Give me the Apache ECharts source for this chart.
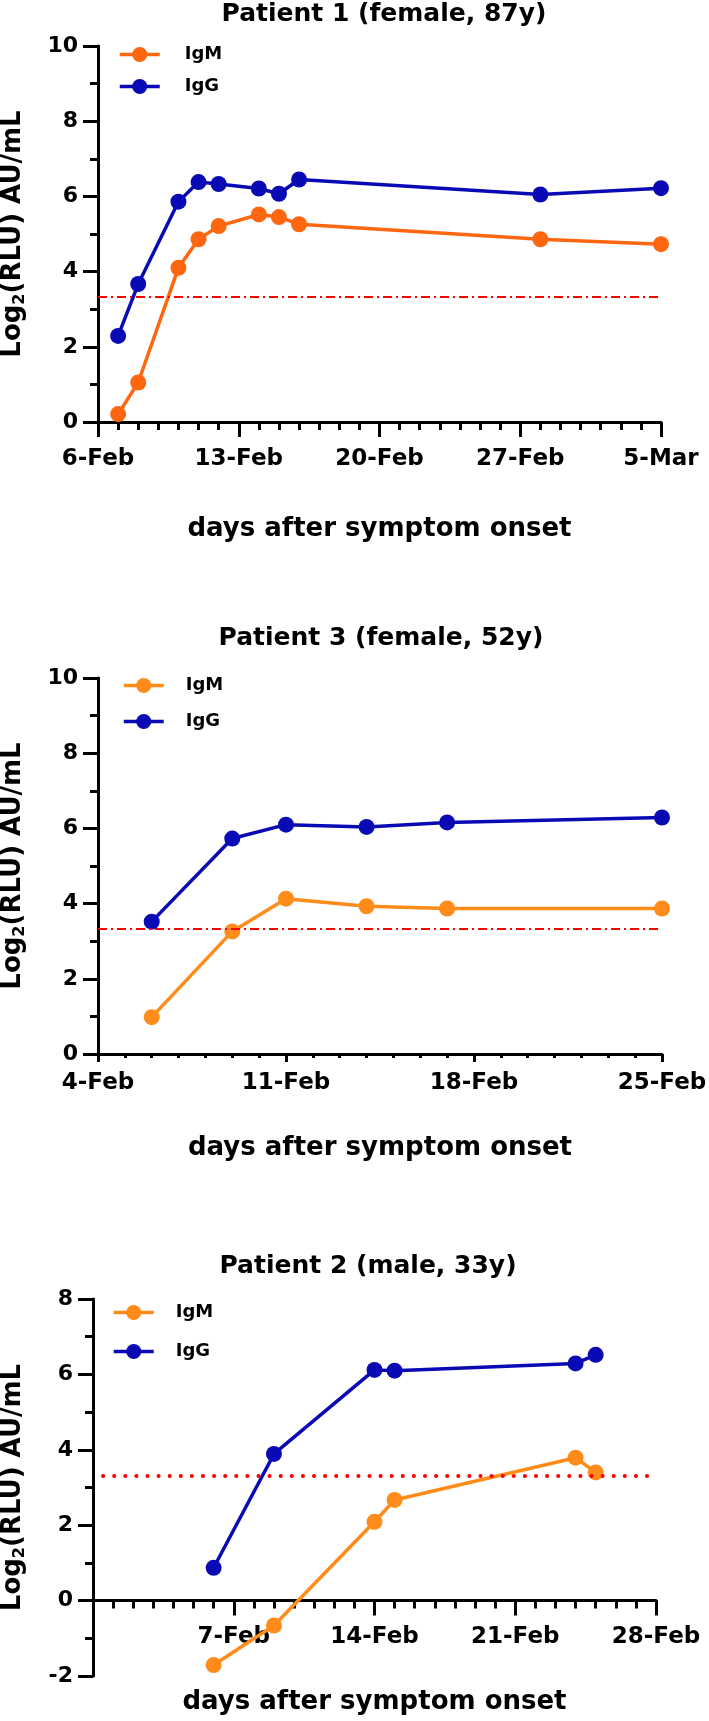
<!DOCTYPE html>
<html><head><meta charset="utf-8">
<script src="https://cdn.jsdelivr.net/npm/echarts@6/dist/echarts.min.js"></script>
<style>html,body{margin:0;padding:0;background:#fff}#c{width:709px;height:1721px}</style>
</head><body><div id="c"></div>
<script>
// ---------------- DATA ----------------
const seriesNames = ['IgM', 'IgG'];
const xTitle = 'days after symptom onset';
const CUTOFF = 3.32;            // log2(10) positivity cut-off
const xTickDays = 7;             // major tick every week

// Patient 1
const p1Title = 'Patient 1 (female, 87y)';
const p1Start = '2020-02-06';
const p1SpanDays = 28;
const p1Dates = ['2020-02-07','2020-02-08','2020-02-10','2020-02-11','2020-02-12','2020-02-14','2020-02-15','2020-02-16','2020-02-28','2020-03-05'];
const p1IgM = [0.21, 1.05, 4.10, 4.86, 5.21, 5.52, 5.45, 5.26, 4.86, 4.73];
const p1IgG = [2.29, 3.67, 5.86, 6.38, 6.33, 6.21, 6.07, 6.45, 6.05, 6.22];

// Patient 3
const p3Title = 'Patient 3 (female, 52y)';
const p3Start = '2020-02-04';
const p3SpanDays = 21;
const p3Dates = ['2020-02-06','2020-02-09','2020-02-11','2020-02-14','2020-02-17','2020-02-25'];
const p3IgM = [0.98, 3.26, 4.13, 3.93, 3.87, 3.87];
const p3IgG = [3.52, 5.73, 6.10, 6.04, 6.16, 6.29];

// Patient 2
const p2Title = 'Patient 2 (male, 33y)';
const p2Start = '2020-01-31';
const p2SpanDays = 28;
const p2Dates = ['2020-02-06','2020-02-09','2020-02-14','2020-02-15','2020-02-24','2020-02-25'];
const p2IgM = [-1.71, -0.66, 2.09, 2.67, 3.79, 3.40];
const p2IgG = [0.87, 3.89, 6.12, 6.10, 6.29, 6.52];
const p2CutoffSpan = [0.5, 27.8]; // days after p2Start covered by the dotted cut-off line

const yRange13 = [0, 10];
const yRange2 = [-2, 8];

// ---------------- HELPERS ----------------
const FONT = 'DejaVu Sans';
const MONTHS = ['Jan','Feb','Mar','Apr','May','Jun','Jul','Aug','Sep','Oct','Nov','Dec'];
const BLUE = '#0a0ab4';
const ORANGE1 = '#ff6610';
const ORANGE2 = '#ff8c1a';
function utc(s){ const p = s.split('-').map(Number); return Date.UTC(p[0], p[1]-1, p[2]); }
function dayOff(start, d){ return Math.round((utc(d) - utc(start)) / 86400000); }
function fmt(start, v){ const d = new Date(utc(start) + v * 86400000); return d.getUTCDate() + '-' + MONTHS[d.getUTCMonth()]; }
const black = { color: '#000', width: 3 };

const grids = [
  { left: 98, right: 48, top: 46, height: 376 },
  { left: 98, right: 47, top: 678, height: 376 },
  { left: 93, right: 53, top: 1299, height: 377 }
];

function xAxisCfg(gi, start, span, o){
  return {
    type: 'value', gridIndex: gi, min: 0, max: span, interval: xTickDays,
    offset: o.offset || 0,
    axisLine: { show: true, onZero: false, lineStyle: black },
    axisTick: { show: true, length: o.tick, lineStyle: black },
    minorTick: { show: true, splitNumber: xTickDays, length: o.minor, lineStyle: black },
    splitLine: { show: false }, minorSplitLine: { show: false },
    axisLabel: { margin: o.margin, fontFamily: FONT, fontWeight: 'bold', fontSize: 23, color: '#000',
      showMinLabel: o.showMin, showMaxLabel: true, formatter: v => fmt(start, v) },
    name: xTitle, nameLocation: 'middle', nameGap: o.nameGap,
    nameTextStyle: { fontFamily: FONT, fontWeight: 'bold', fontSize: 26, color: '#000' }
  };
}
function yAxisCfg(gi, range, gap){
  return {
    type: 'value', gridIndex: gi, min: range[0], max: range[1], interval: 2,
    axisLine: { show: true, onZero: false, lineStyle: black },
    axisTick: { show: true, length: 15, lineStyle: black },
    minorTick: { show: true, splitNumber: 2, length: 8, lineStyle: black },
    splitLine: { show: false }, minorSplitLine: { show: false },
    axisLabel: { margin: 20, fontFamily: FONT, fontWeight: 'bold', fontSize: 22, color: '#000' },
    name: '{a|Log}{s|2}{a|(RLU) AU/mL}', nameLocation: 'middle', nameRotate: 90, nameGap: gap,
    nameTextStyle: { color: '#000', rich: {
      a: { fontFamily: FONT, fontWeight: 'bold', fontSize: 26, lineHeight: 30, color: '#000' },
      s: { fontFamily: FONT, fontWeight: 'bold', fontSize: 16, lineHeight: 16, verticalAlign: 'bottom', color: '#000' }
    } }
  };
}
function lineSeries(name, color, idx, start, dates, vals, extra){
  const s = {
    type: 'line', name: name, xAxisIndex: idx, yAxisIndex: idx,
    data: dates.map((d, i) => [dayOff(start, d), vals[i]]),
    symbol: 'circle', symbolSize: 16, showSymbol: true,
    lineStyle: { width: 3.5, color: color }, itemStyle: { color: color },
    z: 3, animation: false
  };
  return Object.assign(s, extra || {});
}
function titleCfg(text, x, top){
  return { text: text, left: x, top: top, textAlign: 'center', padding: 0,
    textStyle: { fontFamily: FONT, fontWeight: 'bold', fontSize: 25, color: '#000' } };
}
function legendCfg(left, top, gap, orange, pad){
  return {
    orient: 'vertical', left: left, top: top, padding: 0, itemGap: gap,
    itemWidth: 40, itemHeight: 19, selectedMode: false,
    textStyle: { fontFamily: FONT, fontWeight: 'bold', fontSize: 18, color: '#000', padding: [0, 0, 0, pad] },
    data: [
      { name: seriesNames[0], itemStyle: { color: orange }, lineStyle: { color: orange, width: 3.5 } },
      { name: seriesNames[1], itemStyle: { color: BLUE }, lineStyle: { color: BLUE, width: 3.5 } }
    ]
  };
}
const dashDot = { silent: true, symbol: 'none', label: { show: false },
  lineStyle: { color: '#ff0000', width: 2, type: [9, 4, 2, 4] }, data: [{ yAxis: CUTOFF }] };
const dotted = { silent: true, symbol: 'none', label: { show: false },
  lineStyle: { color: '#ff0000', width: 4, type: [0.1, 11], cap: 'round' },
  data: [[{ coord: [p2CutoffSpan[0], CUTOFF] }, { coord: [p2CutoffSpan[1], CUTOFF] }]] };

// panel 2: x axis sits on y = 0 (shift from the grid bottom by the scale position of 0)
const p2ZeroOffset = -grids[2].height * (0 - yRange2[0]) / (yRange2[1] - yRange2[0]);

const option = {
  backgroundColor: '#fff',
  animation: false,
  title: [
    titleCfg(p1Title, 384, 2),
    titleCfg(p3Title, 381, 626),
    titleCfg(p2Title, 368, 1254)
  ],
  legend: [
    legendCfg(118, 45.5, 14, ORANGE1, 20),
    legendCfg(122, 676.5, 18, ORANGE2, 17),
    legendCfg(112, 1303.5, 21, ORANGE2, 17)
  ],
  grid: grids.map(g => Object.assign({ outerBoundsMode: 'none', containLabel: false }, g)),
  xAxis: [
    xAxisCfg(0, p1Start, p1SpanDays, { tick: 15, minor: 8, margin: 26, nameGap: 94, showMin: true }),
    xAxisCfg(1, p3Start, p3SpanDays, { tick: 8, minor: 4, margin: 18, nameGap: 81, showMin: true }),
    xAxisCfg(2, p2Start, p2SpanDays, { tick: 15, minor: 8, margin: 25, nameGap: 89, showMin: false, offset: p2ZeroOffset })
  ],
  yAxis: [
    yAxisCfg(0, yRange13, 70),
    yAxisCfg(1, yRange13, 70),
    yAxisCfg(2, yRange2, 65)
  ],
  series: [
    lineSeries('IgM', ORANGE1, 0, p1Start, p1Dates, p1IgM, { markLine: dashDot }),
    lineSeries('IgG', BLUE, 0, p1Start, p1Dates, p1IgG),
    lineSeries('IgM', ORANGE2, 1, p3Start, p3Dates, p3IgM, { markLine: dashDot }),
    lineSeries('IgG', BLUE, 1, p3Start, p3Dates, p3IgG),
    lineSeries('IgM', ORANGE2, 2, p2Start, p2Dates, p2IgM, { markLine: dotted }),
    lineSeries('IgG', BLUE, 2, p2Start, p2Dates, p2IgG)
  ]
};
const chart = echarts.init(document.getElementById('c'), null, { renderer: 'canvas', width: 709, height: 1721 });
chart.setOption(option);
</script>
</body></html>
